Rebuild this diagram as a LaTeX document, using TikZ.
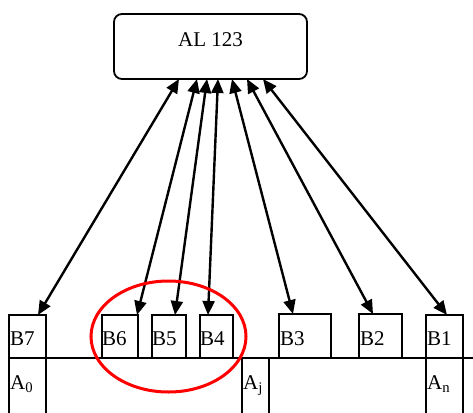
\documentclass[tikz,border=0pt]{standalone}
\usepackage{fontspec}
\setmainfont{Liberation Serif}
\usetikzlibrary{arrows.meta}
\tikzset{
  txt/.style={font=\fontsize{21}{25}\selectfont},
  bbox/.style={draw, line width=1.8pt, inner sep=0pt, outer sep=0pt, anchor=north west, minimum height=43pt},
  abox/.style={draw, line width=1.8pt, inner sep=0pt, outer sep=0pt, anchor=north west, minimum height=56pt},
  tag/.style={txt, anchor=base west, inner sep=1pt},
  arr/.style={line width=2.4pt, {Triangle[length=14pt,width=12pt]}-{Triangle[length=14pt,width=12pt]}},
}
\begin{document}
\begin{tikzpicture}[x=1pt,y=1pt]
\useasboundingbox (0,0) rectangle (473,-412);
\clip (0,0) rectangle (473,-412);
% top box
\node[draw, txt, rounded corners=8pt, line width=1.8pt, minimum width=193pt, minimum height=65pt,
      inner sep=0pt, outer sep=0pt, text height=13pt, text depth=13pt] (al) at (210.5,-46.5) {AL 123};
% B boxes
\node[bbox, minimum width=37pt, label={[tag, yshift=-30pt]north west:B7}] (b7) at (9,-315) {};
\node[bbox, minimum width=36pt, label={[tag, yshift=-30pt, xshift=-1pt]north west:B6}] (b6) at (102,-315) {};
\node[bbox, minimum width=34pt, label={[tag, yshift=-30pt, xshift=-1pt]north west:B5}] (b5) at (152,-315) {};
\node[bbox, minimum width=33pt, label={[tag, yshift=-30pt, xshift=-1pt]north west:B4}] (b4) at (200,-315) {};
\node[bbox, minimum width=52pt, minimum height=44pt, label={[tag, yshift=-31pt]north west:B3}] (b3) at (279,-314) {};
\node[bbox, minimum width=43pt, minimum height=44pt, label={[tag, yshift=-31pt]north west:B2}] (b2) at (359,-314) {};
\node[bbox, minimum width=37pt, label={[tag, yshift=-30pt]north west:B1}] (b1) at (426,-315) {};
% A boxes
\node[abox, minimum width=37pt, label={[tag, yshift=-31pt]north west:A\textsubscript{0}}] (a0) at (9,-358) {};
\node[abox, minimum width=27pt, label={[tag, yshift=-31pt]north west:A\textsubscript{j}}] (aj) at (242,-358) {};
\node[abox, minimum width=37pt, label={[tag, yshift=-31pt]north west:A\textsubscript{n}}] (an) at (426,-358) {};
% base line
\coordinate (rend) at (473,-358);
\draw[line width=1.8pt] (b7.south east) -- (rend);
% arrows
\draw[arr] ([xshift=65pt]al.south west) -- ([xshift=29pt]b7.north west);
\draw[arr] ([xshift=83pt]al.south west) -- ([xshift=35pt]b6.north west);
\draw[arr] ([xshift=93pt]al.south west) -- ([xshift=23pt]b5.north west);
\draw[arr] ([xshift=104pt]al.south west) -- ([xshift=8pt]b4.north west);
\draw[arr] ([xshift=118pt]al.south west) -- ([xshift=14pt]b3.north west);
\draw[arr] ([xshift=133pt]al.south west) -- ([xshift=14pt]b2.north west);
\draw[arr] ([xshift=149pt]al.south west) -- ([xshift=21pt]b1.north west);
% red ellipse
\draw[red, line width=3pt] (168.5,-336.5) ellipse [x radius=77.5pt, y radius=55.5pt];
\end{tikzpicture}
\end{document}
